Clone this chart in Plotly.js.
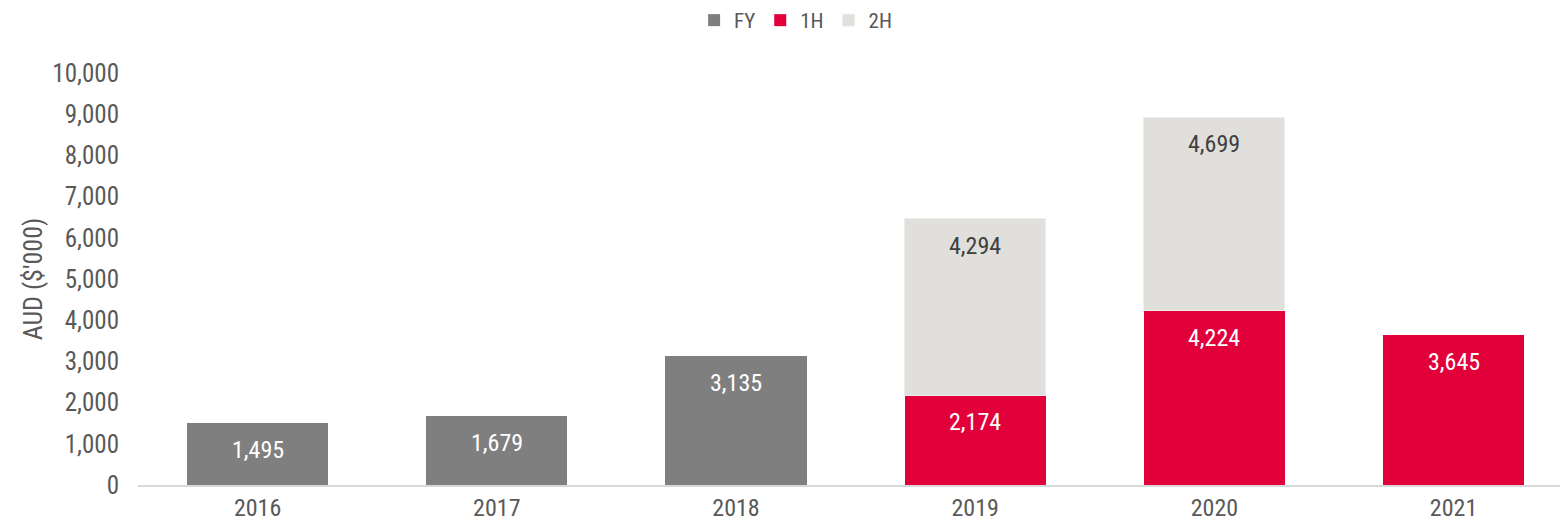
<!DOCTYPE html>
<html>
<head>
<meta charset="utf-8">
<script src="https://cdn.plot.ly/plotly-3.0.1.min.js"></script>
<style>html,body{margin:0;padding:0;background:#fff;}#chart{width:1560px;height:527px;}</style>
</head>
<body>
<div id="chart"></div>
<script>
const years = ['2016', '2017', '2018', '2019', '2020', '2021'];
const fyValues = [1495, 1679, 3135, null, null, null];
const h1Values = [null, null, null, 2174, 4224, 3645];
const h2Values = [null, null, null, 4294, 4699, null];
const yTickValues = [0, 1000, 2000, 3000, 4000, 5000, 6000, 7000, 8000, 9000, 10000];

const FONT = 'Roboto Condensed, Roboto, sans-serif';
const colors = {FY: '#7f7f7f', H1: '#e2003b', H2: '#e0dfdb'};

const traces = [
  {type: 'bar', name: 'FY', x: years, y: fyValues, marker: {color: colors.FY}},
  {type: 'bar', name: '1H', x: years, y: h1Values, marker: {color: colors.H1}},
  {type: 'bar', name: '2H', x: years, y: h2Values, marker: {color: colors.H2, line: {color: '#eeeeec', width: 1}}}
];

const fmt = v => v.toLocaleString('en-US');
const labels = [];
years.forEach((yr, i) => {
  if (fyValues[i] != null) labels.push({x: i, y: fyValues[i], text: fmt(fyValues[i]), color: '#ffffff'});
  let base = 0;
  if (h1Values[i] != null) { base = h1Values[i]; labels.push({x: i, y: base, text: fmt(h1Values[i]), color: '#ffffff'}); }
  if (h2Values[i] != null) labels.push({x: i, y: base + h2Values[i], text: fmt(h2Values[i]), color: '#404040'});
});

const layout = {
  width: 1560, height: 527,
  margin: {l: 138, r: 0, t: 73, b: 42},
  paper_bgcolor: '#ffffff', plot_bgcolor: '#ffffff',
  barmode: 'stack', bargap: 0.41,
  font: {family: FONT, size: 24, color: '#595959'},
  showlegend: true,
  legend: {orientation: 'h', xref: 'container', yref: 'container', x: 0.51, xanchor: 'center', y: 1, yanchor: 'top',
           font: {family: FONT, size: 21, color: '#595959'}, traceorder: 'normal', itemwidth: 30},
  xaxis: {type: 'category', range: [-0.5, 5.445], showgrid: false, zeroline: false, showline: true,
          linecolor: '#d9d9d9', linewidth: 1.5, ticks: '', tickfont: {family: FONT, size: 24, color: '#595959'}},
  yaxis: {range: [0, 10000], tickvals: yTickValues, ticktext: yTickValues.map(fmt), showgrid: false, zeroline: false,
          showline: false, ticks: '', ticklabelstandoff: 18,
          tickfont: {family: FONT, size: 25, color: '#595959'},
          title: {text: "AUD ($'000)", font: {family: FONT, size: 26, color: '#595959'}, standoff: 2}},
  annotations: labels.map(a => ({
    x: a.x, y: a.y, xref: 'x', yref: 'y', text: a.text, showarrow: false,
    yanchor: 'middle', yshift: -27, font: {family: FONT, size: 24, color: a.color}
  }))
};

Plotly.newPlot('chart', traces, layout, {displayModeBar: false});
</script>
</body>
</html>
